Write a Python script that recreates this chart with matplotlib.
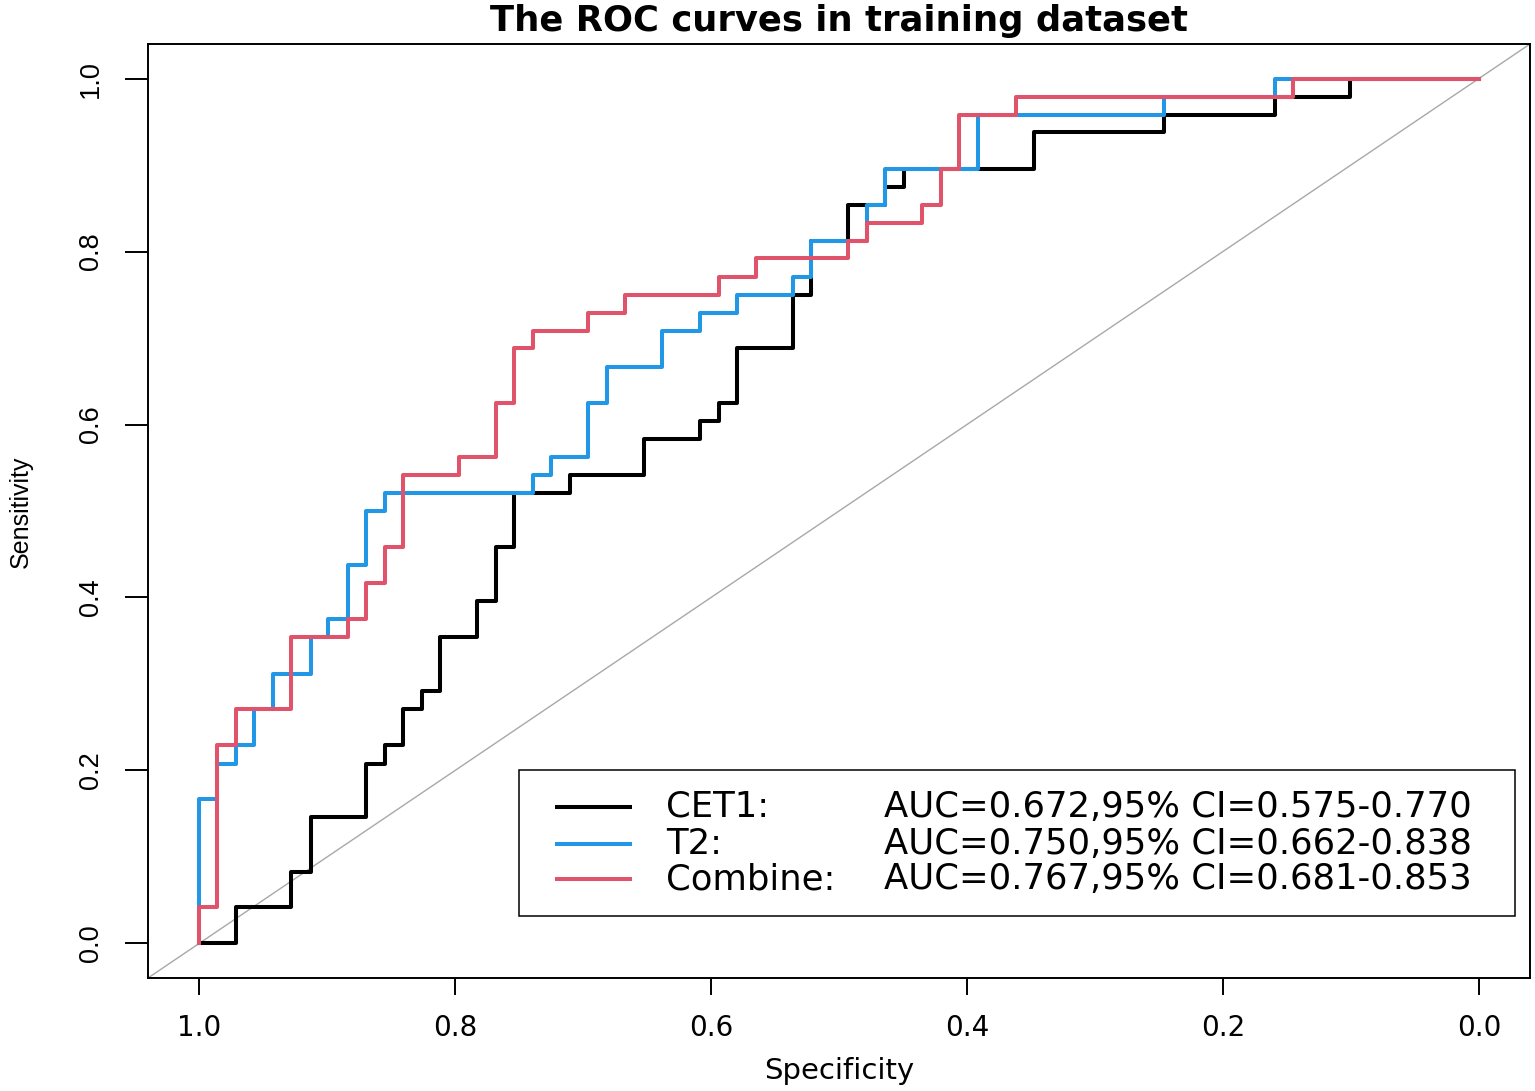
import matplotlib
matplotlib.use("Agg")
import matplotlib.pyplot as plt
from matplotlib.patches import Rectangle

# ROC corner points (specificity, sensitivity)
# each step: horizontal move to the spec value, then jump up to the sens value
cet1_spec = [1.000, 0.971, 0.928, 0.913, 0.870, 0.855, 0.841, 0.826, 0.812, 0.783,
             0.768, 0.754, 0.710, 0.652, 0.609, 0.594, 0.580, 0.536, 0.522, 0.493,
             0.464, 0.449, 0.348, 0.246, 0.159, 0.101, 0.000]
cet1_sens = [0.000, 0.042, 0.083, 0.146, 0.208, 0.229, 0.271, 0.292, 0.354, 0.396,
             0.458, 0.521, 0.542, 0.583, 0.604, 0.625, 0.688, 0.750, 0.812, 0.854,
             0.875, 0.896, 0.938, 0.958, 0.979, 1.000, 1.000]

t2_spec = [1.000, 1.000, 0.986, 0.971, 0.957, 0.942, 0.913, 0.899, 0.884, 0.870,
           0.855, 0.739, 0.725, 0.696, 0.681, 0.638, 0.609, 0.580, 0.536, 0.522,
           0.478, 0.464, 0.391, 0.246, 0.159, 0.000]
t2_sens = [0.000, 0.167, 0.208, 0.229, 0.271, 0.312, 0.354, 0.375, 0.438, 0.500,
           0.521, 0.542, 0.562, 0.625, 0.667, 0.708, 0.729, 0.750, 0.771, 0.812,
           0.854, 0.896, 0.958, 0.979, 1.000, 1.000]

comb_spec = [1.000, 1.000, 0.986, 0.971, 0.928, 0.884, 0.870, 0.855, 0.841, 0.797,
             0.768, 0.754, 0.739, 0.696, 0.667, 0.594, 0.565, 0.493, 0.478, 0.435,
             0.420, 0.406, 0.362, 0.145, 0.000]
comb_sens = [0.000, 0.042, 0.229, 0.271, 0.354, 0.375, 0.417, 0.458, 0.542, 0.562,
             0.625, 0.688, 0.708, 0.729, 0.750, 0.771, 0.792, 0.812, 0.833, 0.854,
             0.896, 0.958, 0.979, 1.000, 1.000]

names = ["CET1:", "T2:", "Combine:"]
auc_text = ["AUC=0.672,95% CI=0.575-0.770",
            "AUC=0.750,95% CI=0.662-0.838",
            "AUC=0.767,95% CI=0.681-0.853"]
colors = ["#000000", "#2297E6", "#DF536B"]
ticks = [1.0, 0.8, 0.6, 0.4, 0.2, 0.0]
tick_labels = ["1.0", "0.8", "0.6", "0.4", "0.2", "0.0"]

fig = plt.figure(figsize=(15.35, 10.91), dpi=100)
ax = fig.add_axes([148 / 1535, 1 - 978 / 1091, 1382 / 1535, 934 / 1091])

# diagonal reference
ax.axline((1, 0), (0, 1), color="#A8A8A8", lw=1.0, zorder=1)

curves = [(cet1_spec, cet1_sens), (t2_spec, t2_sens), (comb_spec, comb_sens)]
for (sp, se), col in zip(curves, colors):
    ax.plot(sp, se, drawstyle="steps-post", color=col, lw=2.9, zorder=3)

ax.set_xlim(1.04, -0.04)
ax.set_ylim(-0.04, 1.04)
ax.set_xticks(ticks)
ax.set_xticklabels(tick_labels, fontsize=20)
ax.set_yticks(ticks)
ax.set_yticklabels(tick_labels, fontsize=19.5, family="Liberation Sans",
                   rotation=90, va="center")
ax.tick_params(axis="x", length=12.2, width=1.4, pad=14)
ax.tick_params(axis="y", length=16.5, width=1.4, pad=15)
for s in ax.spines.values():
    s.set_linewidth(1.4)

# legend box drawn by hand (R style)
ax.add_patch(Rectangle((-0.028, 0.032), 0.778, 0.168, facecolor="white",
                       edgecolor="black", lw=1.1, zorder=4))
row_y = [0.158, 0.1155, 0.074]
for name, txt, col, y in zip(names, auc_text, colors, row_y):
    ax.plot([0.722, 0.662], [y, y], color=col, lw=2.9, zorder=5,
            solid_capstyle="butt")
    ax.text(0.635, y, name, fontsize=25.5, va="center", ha="left", zorder=5)
    ax.text(0.465, y, txt, fontsize=25.5, va="center", ha="left", zorder=5)

fig.text(839 / 1535, 1 - 31 / 1091, "The ROC curves in training dataset",
         fontsize=25.5, fontweight="bold", ha="center", va="baseline")
fig.text(839 / 1535, 1 - 1071 / 1091, "Specificity", fontsize=21,
         ha="center", va="center")
fig.text(21 / 1535, 1 - 512 / 1091, "Sensitivity", fontsize=18,
         family="Liberation Sans", rotation=90, ha="center", va="center")

fig.savefig("out.png", dpi=100)
